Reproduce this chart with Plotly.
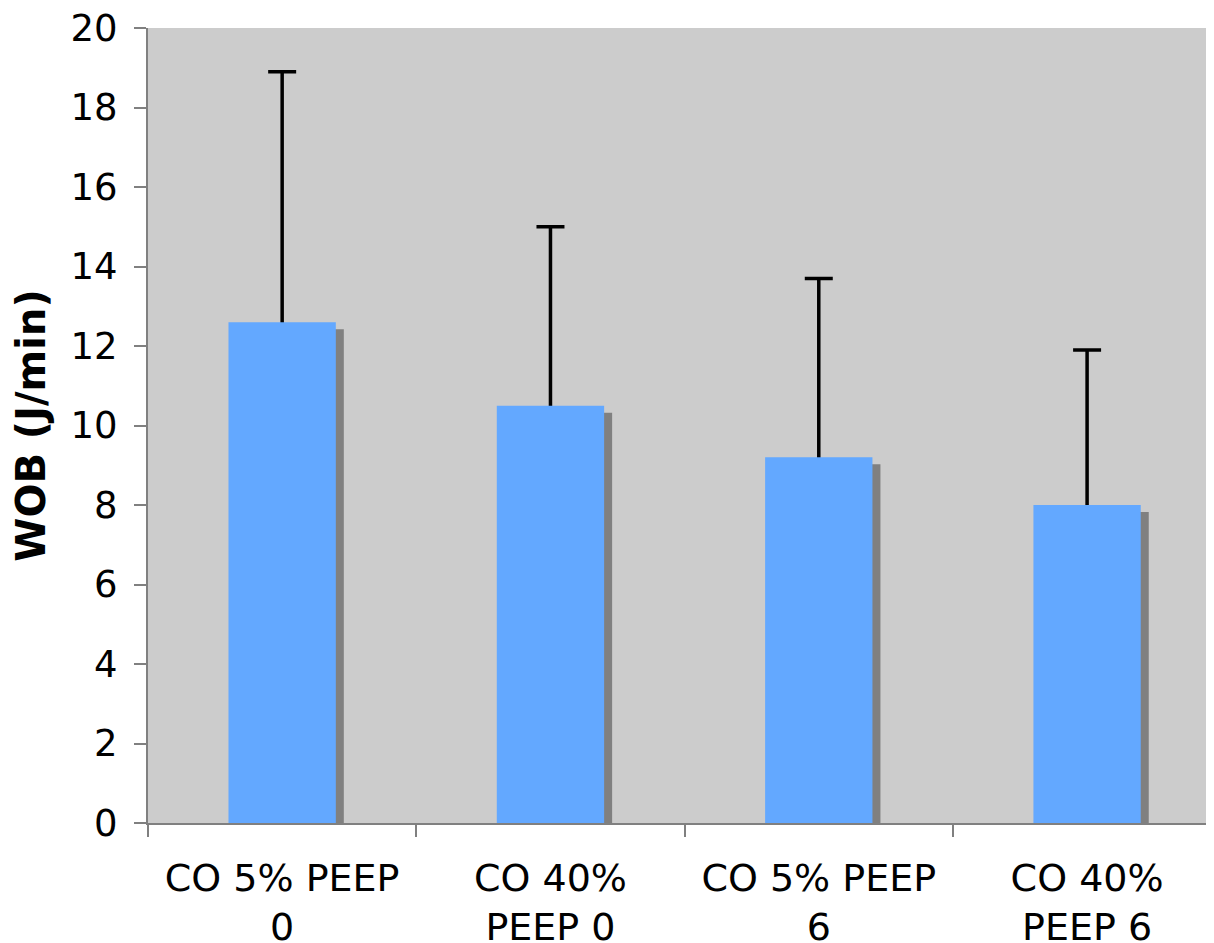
import plotly.graph_objects as go

categories = ["CO 5% PEEP<br>0", "CO 40%<br>PEEP 0", "CO 5% PEEP<br>6", "CO 40%<br>PEEP 6"]
means = [12.6, 10.5, 9.2, 8.0]
upper = [18.9, 15.0, 13.7, 11.9]
y_ticks = [0, 2, 4, 6, 8, 10, 12, 14, 16, 18, 20]

# page body has an 8px default margin, so the figure is sized to fit the window
W, H = 1206, 935
ml, mr, mt, mb = 140, 0, 20, 120
x_range = [-0.5, 3.473]
y_range = [0, 20]
plot_w = W - ml - mr
plot_h = H - mt - mb
px_per_cat = plot_w / (x_range[1] - x_range[0])
px_per_unit = plot_h / (y_range[1] - y_range[0])

bar_w = 0.4
shadow_dx = 8 / px_per_cat
shadow_dy = 7 / px_per_unit
cap_hide = 4 / px_per_unit  # start error bar slightly inside bar so lower cap is hidden

err_base = [m - cap_hide for m in means]
err_plus = [u - b for u, b in zip(upper, err_base)]

fig = go.Figure()
# drop shadow
fig.add_trace(go.Bar(
    x=categories, y=[m - shadow_dy for m in means],
    width=bar_w, offset=-bar_w / 2 + shadow_dx,
    marker=dict(color="#808080", line=dict(width=0)),
    hoverinfo="skip", showlegend=False,
))
# carrier for error bars (transparent)
fig.add_trace(go.Bar(
    x=categories, y=err_base,
    width=bar_w, offset=-bar_w / 2,
    marker=dict(color="rgba(0,0,0,0)", line=dict(width=0)),
    error_y=dict(type="data", symmetric=False, array=err_plus,
                 arrayminus=[0] * len(means), color="black",
                 thickness=3.5, width=14),
    hoverinfo="skip", showlegend=False,
))
# main bars
fig.add_trace(go.Bar(
    x=categories, y=means,
    width=bar_w, offset=-bar_w / 2,
    marker=dict(color="#63a8ff", line=dict(width=0)),
    showlegend=False,
))

fig.update_layout(
    width=W, height=H,
    margin=dict(l=ml, r=mr, t=mt, b=mb, pad=0),
    barmode="overlay",
    paper_bgcolor="white",
    plot_bgcolor="#cccccc",
    font=dict(family="DejaVu Sans, Verdana, sans-serif", size=37, color="black"),
    xaxis=dict(
        type="category", range=x_range, automargin=False,
        showline=True, linecolor="#808080", linewidth=2,
        ticks="outside", tickson="boundaries", ticklen=12, tickwidth=2,
        tickcolor="#808080", showgrid=False, zeroline=False,
        tickfont=dict(size=38), ticklabelstandoff=20,
        ticklabeloverflow="allow",
    ),
    yaxis=dict(
        range=y_range, tickvals=y_ticks, automargin=False,
        showline=True, linecolor="#808080", linewidth=2,
        ticks="outside", ticklen=12, tickwidth=2, tickcolor="#808080",
        showgrid=False, zeroline=False,
        tickfont=dict(size=37), ticklabelstandoff=9,
        ticklabeloverflow="allow",
        title=dict(text="<b>WOB (J/min)</b>", font=dict(size=40), standoff=15),
    ),
)

fig.write_html("out.html")
